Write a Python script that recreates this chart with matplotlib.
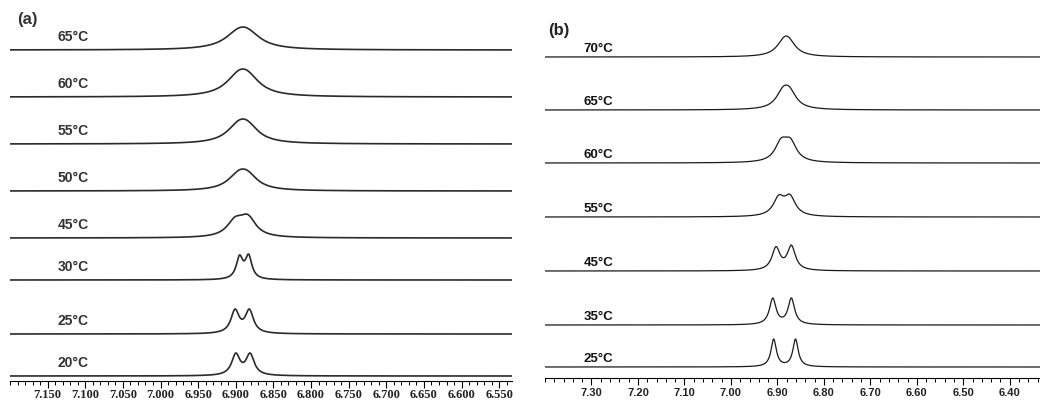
import numpy as np
import matplotlib.pyplot as plt
from matplotlib.ticker import MultipleLocator, FixedLocator

# panel (a): temperature series, peak centres (ppm), relative amplitudes, line width (ppm), peak height
temps_a = ['65°C', '60°C', '55°C', '50°C', '45°C', '30°C', '25°C', '20°C']
centers_a = [(6.897, 6.885), (6.897, 6.885), (6.897, 6.885), (6.897, 6.885),
             (6.901, 6.884), (6.895, 6.883), (6.901, 6.882), (6.900, 6.881)]
amps_a = [(0.9, 1.0), (0.9, 1.0), (0.9, 1.0), (0.9, 1.0),
          (0.8, 1.0), (0.95, 1.0), (1.0, 1.0), (1.0, 1.0)]
fwhm_a = [0.044, 0.041, 0.037, 0.034, 0.026, 0.0106, 0.0133, 0.0133]
height_a = [23, 28, 25, 22, 24, 26, 25, 23]

# panel (b)
temps_b = ['70°C', '65°C', '60°C', '55°C', '45°C', '35°C', '25°C']
centers_b = [(6.886, 6.876), (6.888, 6.874), (6.892, 6.872), (6.897, 6.873),
             (6.903, 6.870), (6.910, 6.870), (6.908, 6.861)]
amps_b = [(1.0, 1.0), (1.0, 1.0), (1.0, 1.0), (0.95, 1.0),
          (0.93, 1.0), (1.0, 1.0), (1.0, 1.0)]
fwhm_b = [0.038, 0.036, 0.032, 0.029, 0.021, 0.017, 0.014]
height_b = [21, 25, 26, 23, 26, 27, 28]

ticks_a = [7.150, 7.100, 7.050, 7.000, 6.950, 6.900, 6.850, 6.800, 6.750,
           6.700, 6.650, 6.600, 6.550]
ticks_b = [7.30, 7.20, 7.10, 7.00, 6.90, 6.80, 6.70, 6.60, 6.50, 6.40]


def spectrum(x, centers, amps, fwhm, height):
    hw = fwhm / 2
    y = sum(a / (1 + ((x - c) / hw) ** 2) for c, a in zip(centers, amps))
    return y / y.max() * height


W, H = 1040, 400
fig = plt.figure(figsize=(10.4, 4), dpi=100)
sans = 'Liberation Sans'

# layout in pixels (from top of image)
spine_a, spine_b = 381, 378
base_a = [50, 97, 144, 191, 238, 280, 334, 376]
base_b = [57, 110, 163, 217, 271, 325, 367]

ax1 = fig.add_axes([10 / W, (H - spine_a) / H, 502 / W, spine_a / H])
ax2 = fig.add_axes([545 / W, (H - spine_b) / H, 495 / W, spine_b / H])

xa = np.linspace(7.20, 6.53, 1500)
for t, c, a, f, h, b in zip(temps_a, centers_a, amps_a, fwhm_a, height_a, base_a):
    y0 = spine_a - b
    ax1.plot(xa, y0 + spectrum(xa, c, a, f, h), color='#2a2a2a', lw=1.2)
    ax1.text(7.137, y0 + 6, t, fontsize=10, fontweight='bold', family=sans,
             color='#333333', ha='left', va='bottom')
ax1.set_xlim(7.20, 6.533)
ax1.set_ylim(0, spine_a)

xb = np.linspace(7.40, 6.33, 1500)
for t, c, a, f, h, b in zip(temps_b, centers_b, amps_b, fwhm_b, height_b, base_b):
    y0 = spine_b - b
    ax2.plot(xb, y0 + spectrum(xb, c, a, f, h), color='#1a1a1a', lw=0.9)
    ax2.text(7.317, y0 + 2, t, fontsize=9.5, fontweight='bold', family=sans,
             color='#111111', ha='left', va='bottom')
ax2.set_xlim(7.40, 6.335)
ax2.set_ylim(0, spine_b)

for ax in (ax1, ax2):
    for s in ('left', 'right', 'top'):
        ax.spines[s].set_visible(False)
    ax.spines['bottom'].set_linewidth(0.8)
    ax.set_yticks([])
    ax.patch.set_alpha(0)
    ax.tick_params(axis='x', which='major', direction='out', length=5, width=0.8)
    ax.tick_params(axis='x', which='minor', direction='out', length=3, width=0.7)

ax1.xaxis.set_major_locator(FixedLocator(ticks_a))
ax1.xaxis.set_minor_locator(MultipleLocator(0.01))
ax1.set_xticklabels(['%.3f' % v for v in ticks_a], fontsize=9, fontweight='bold',
                    family='Liberation Serif', color='#222222')
ax1.tick_params(axis='x', pad=1)

ax2.xaxis.set_major_locator(FixedLocator(ticks_b))
ax2.xaxis.set_minor_locator(MultipleLocator(0.02))
ax2.set_xticklabels(['%.2f' % v for v in ticks_b], fontsize=8, fontweight='bold',
                    family=sans, color='#222222')
ax2.tick_params(axis='x', pad=2)

fig.text(17 / W, 1 - 24 / H, '(a)', fontsize=12, fontweight='bold', family=sans, color='#333333')
fig.text(548 / W, 1 - 35 / H, '(b)', fontsize=12, fontweight='bold', family=sans, color='#222222')

fig.savefig('out.png', dpi=100)
